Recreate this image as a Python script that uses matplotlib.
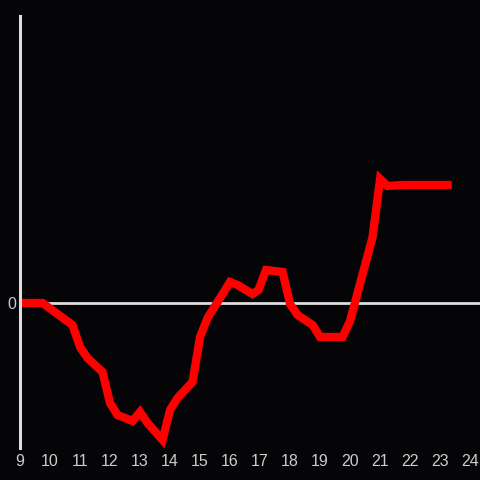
import matplotlib
matplotlib.use("Agg")
import matplotlib.pyplot as plt

# hour of day and value
hours = [9.0, 9.75, 10.75, 11.0, 11.25, 11.75, 12.0, 12.25, 12.75, 13.0, 13.25,
         13.75, 14.0, 14.25, 14.75, 15.0, 15.25, 16.0, 16.25, 16.75, 16.95, 17.2,
         17.75, 18.0, 18.25, 18.75, 19.0, 19.75, 20.0, 20.75, 21.0, 21.25, 21.75, 23.25]
values = [0.0, 0.0, -2.2, -4.4, -5.5, -6.9, -10.0, -11.2, -11.8, -10.9, -12.0,
          -13.7, -10.7, -9.5, -7.9, -3.4, -1.5, 2.1, 1.8, 0.9, 1.3, 3.3,
          3.1, -0.1, -1.2, -2.2, -3.4, -3.4, -1.8, 6.6, 12.4, 11.7, 11.8, 11.8]
xticks = list(range(9, 25))

bg = "#050407"
grey = "#dddddd"

plt.rcParams['font.family'] = ['Liberation Sans', 'DejaVu Sans']

fig = plt.figure(figsize=(4.8, 4.8), dpi=100, facecolor=bg)
ax = fig.add_axes([20 / 480, 32 / 480, 460 / 480, 432 / 480], facecolor=bg)

ax.axhline(0, color=grey, lw=2, zorder=1)
ax.plot(hours, values, color="#ff0000", lw=6, solid_joinstyle="miter", zorder=2)

ax.set_xlim(9, 24.33)
ax.set_ylim(-14.5, 28.7)
ax.set_xticks(xticks)
ax.set_xticklabels([str(t) for t in xticks])
ax.set_yticks([0])
ax.set_yticklabels(["0"])
ax.tick_params(length=0, colors="#cccccc", labelsize=11.5, pad=4)
ax.tick_params(axis="y", pad=3)

for s in ["top", "right", "bottom"]:
    ax.spines[s].set_visible(False)
ax.spines["left"].set_color(grey)
ax.spines["left"].set_linewidth(2.2)

fig.savefig("out.png", dpi=100, facecolor=bg)
